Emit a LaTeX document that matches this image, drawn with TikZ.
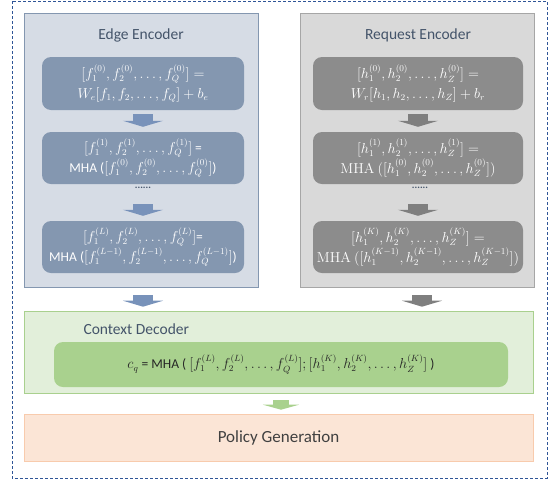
\documentclass[tikz,border=0pt]{standalone}
\usepackage{amsmath,amssymb}
\usepackage[no-math]{fontspec}
\setmainfont{Carlito}
\usetikzlibrary{arrows.meta}

\definecolor{edgepanel}{HTML}{D6DCE5}
\definecolor{edgeline}{HTML}{8497B0}
\definecolor{edgebox}{HTML}{8497B0}
\definecolor{edgearrow}{HTML}{7892BA}
\definecolor{reqpanel}{HTML}{D9D9D9}
\definecolor{reqline}{HTML}{A6A6A6}
\definecolor{reqbox}{HTML}{8C8C8C}
\definecolor{reqarrow}{HTML}{7F7F7F}
\definecolor{decpanel}{HTML}{E2EFDA}
\definecolor{decline}{HTML}{A9D08E}
\definecolor{decbox}{HTML}{A9D18E}
\definecolor{polpanel}{HTML}{FBE5D6}
\definecolor{polline}{HTML}{F8CBAD}
\definecolor{titletext}{HTML}{44546A}
\definecolor{outerline}{HTML}{2F5597}

\tikzset{
  panel/.style={draw, line width=0.6pt, inner sep=0pt},
  formula/.style={rounded corners=9pt, inner sep=0pt, text=white, align=center,
    font=\fontsize{13.5}{20}\selectfont},
  title/.style={text=titletext, font=\fontsize{15.5}{18}\selectfont},
  blockarrow/.style={line width=20pt, -{Triangle[width=40pt,length=6pt]}},
}

\begin{document}
\begin{tikzpicture}[x=1pt, y=-1pt]
\useasboundingbox (0,0) rectangle (551,480);
\draw[outerline, densely dashed, line width=0.6pt] (12,1) rectangle (547,478); % outer frame

% edge encoder
\node[panel, draw=edgeline, fill=edgepanel, minimum width=234, minimum height=274] (edge) at (141,150) {};
\node[title] (etitle) at (141,35) {Edge Encoder};
\node[formula, fill=edgebox, minimum width=202, minimum height=53] (e1) at (143,83.5)
  {$[f_1^{(0)},f_2^{(0)},\dots,f_Q^{(0)}] =$\\ $W_e[f_1,f_2,\dots,f_Q] + b_e$};
\node[formula, fill=edgebox, minimum width=202, minimum height=52] (e2) at (143,158)
  {$[f_1^{(1)},f_2^{(1)},\dots,f_Q^{(1)}]$ =\\ MHA ($[f_1^{(0)},f_2^{(0)},\dots,f_Q^{(0)}]$)};
\node[text=titletext, font=\bfseries] (edots) at (143,188) {......};
\node[formula, fill=edgebox, minimum width=202, minimum height=52] (e3) at (143,247)
  {$[f_1^{(L)},f_2^{(L)},\dots,f_Q^{(L)}]$=\\ MHA ($[f_1^{(L-1)},f_2^{(L-1)},\dots,f_Q^{(L-1)}]$)};

% request encoder
\node[panel, draw=reqline, fill=reqpanel, minimum width=234, minimum height=274] (req) at (417,150) {};
\node[title] (rtitle) at (418,35) {Request Encoder};
\node[formula, fill=reqbox, minimum width=210, minimum height=53] (r1) at (418,83.5)
  {$[h_1^{(0)},h_2^{(0)},\dots,h_Z^{(0)}] =$\\ $W_r[h_1,h_2,\dots,h_Z] + b_r$};
\node[formula, fill=reqbox, minimum width=210, minimum height=52] (r2) at (418,158)
  {$[h_1^{(1)},h_2^{(1)},\dots,h_Z^{(1)}] =$\\ $\mathrm{MHA}\ ([h_1^{(0)},h_2^{(0)},\dots,h_Z^{(0)}])$};
\node[text=titletext, font=\bfseries] (rdots) at (420,188) {......};
\node[formula, fill=reqbox, minimum width=210, minimum height=52] (r3) at (418,247)
  {$[h_1^{(K)},h_2^{(K)},\dots,h_Z^{(K)}] =$\\ $\mathrm{MHA}\ ([h_1^{(K-1)},h_2^{(K-1)},\dots,h_Z^{(K-1)}])$};

% context decoder
\node[panel, draw=decline, fill=decpanel, minimum width=509, minimum height=82] (dec) at (278.5,352) {};
\node[title, anchor=west] (dtitle) at (80,329) {Context Decoder};
\node[formula, fill=decbox, text=black!85, minimum width=454, minimum height=45,
  font=\fontsize{13.5}{16}\selectfont] (dfun) at (281,364.5)
  {$c_q$ = MHA ( $[f_1^{(L)},f_2^{(L)},\dots,f_Q^{(L)}];[h_1^{(K)},h_2^{(K)},\dots,h_Z^{(K)}]$ )};

% policy generation
\node[panel, draw=polline, fill=polpanel, minimum width=509, minimum height=47,
  text=black!75, font=\fontsize{17}{20}\selectfont] (pol) at (278.5,437.5) {Policy Generation};

% arrows
\draw[blockarrow, edgearrow, shorten <=4pt, shorten >=5pt] (e1.south) -- (e2.north);
\draw[blockarrow, edgearrow, shorten <=20pt, shorten >=5pt] (e2.south) -- (e3.north);
\draw[blockarrow, reqarrow, shorten <=4pt, shorten >=5pt] (r1.south) -- (r2.north);
\draw[blockarrow, reqarrow, shorten <=20pt, shorten >=5pt] (r2.south) -- (r3.north);
\draw[blockarrow, edgearrow, shorten <=8pt, shorten >=4pt] (e3.south |- edge.south) -- (e3.south |- dec.north);
\draw[blockarrow, reqarrow, shorten <=8pt, shorten >=4pt] ([xshift=4pt]r3.south |- req.south) -- ([xshift=4pt]r3.south |- dec.north);
\draw[blockarrow, decbox, line width=16pt, -{Triangle[width=36pt,length=5pt]}, shorten <=7pt, shorten >=4pt]
  (dfun.south |- dec.south) -- (dfun.south |- pol.north);
\end{tikzpicture}
\end{document}
